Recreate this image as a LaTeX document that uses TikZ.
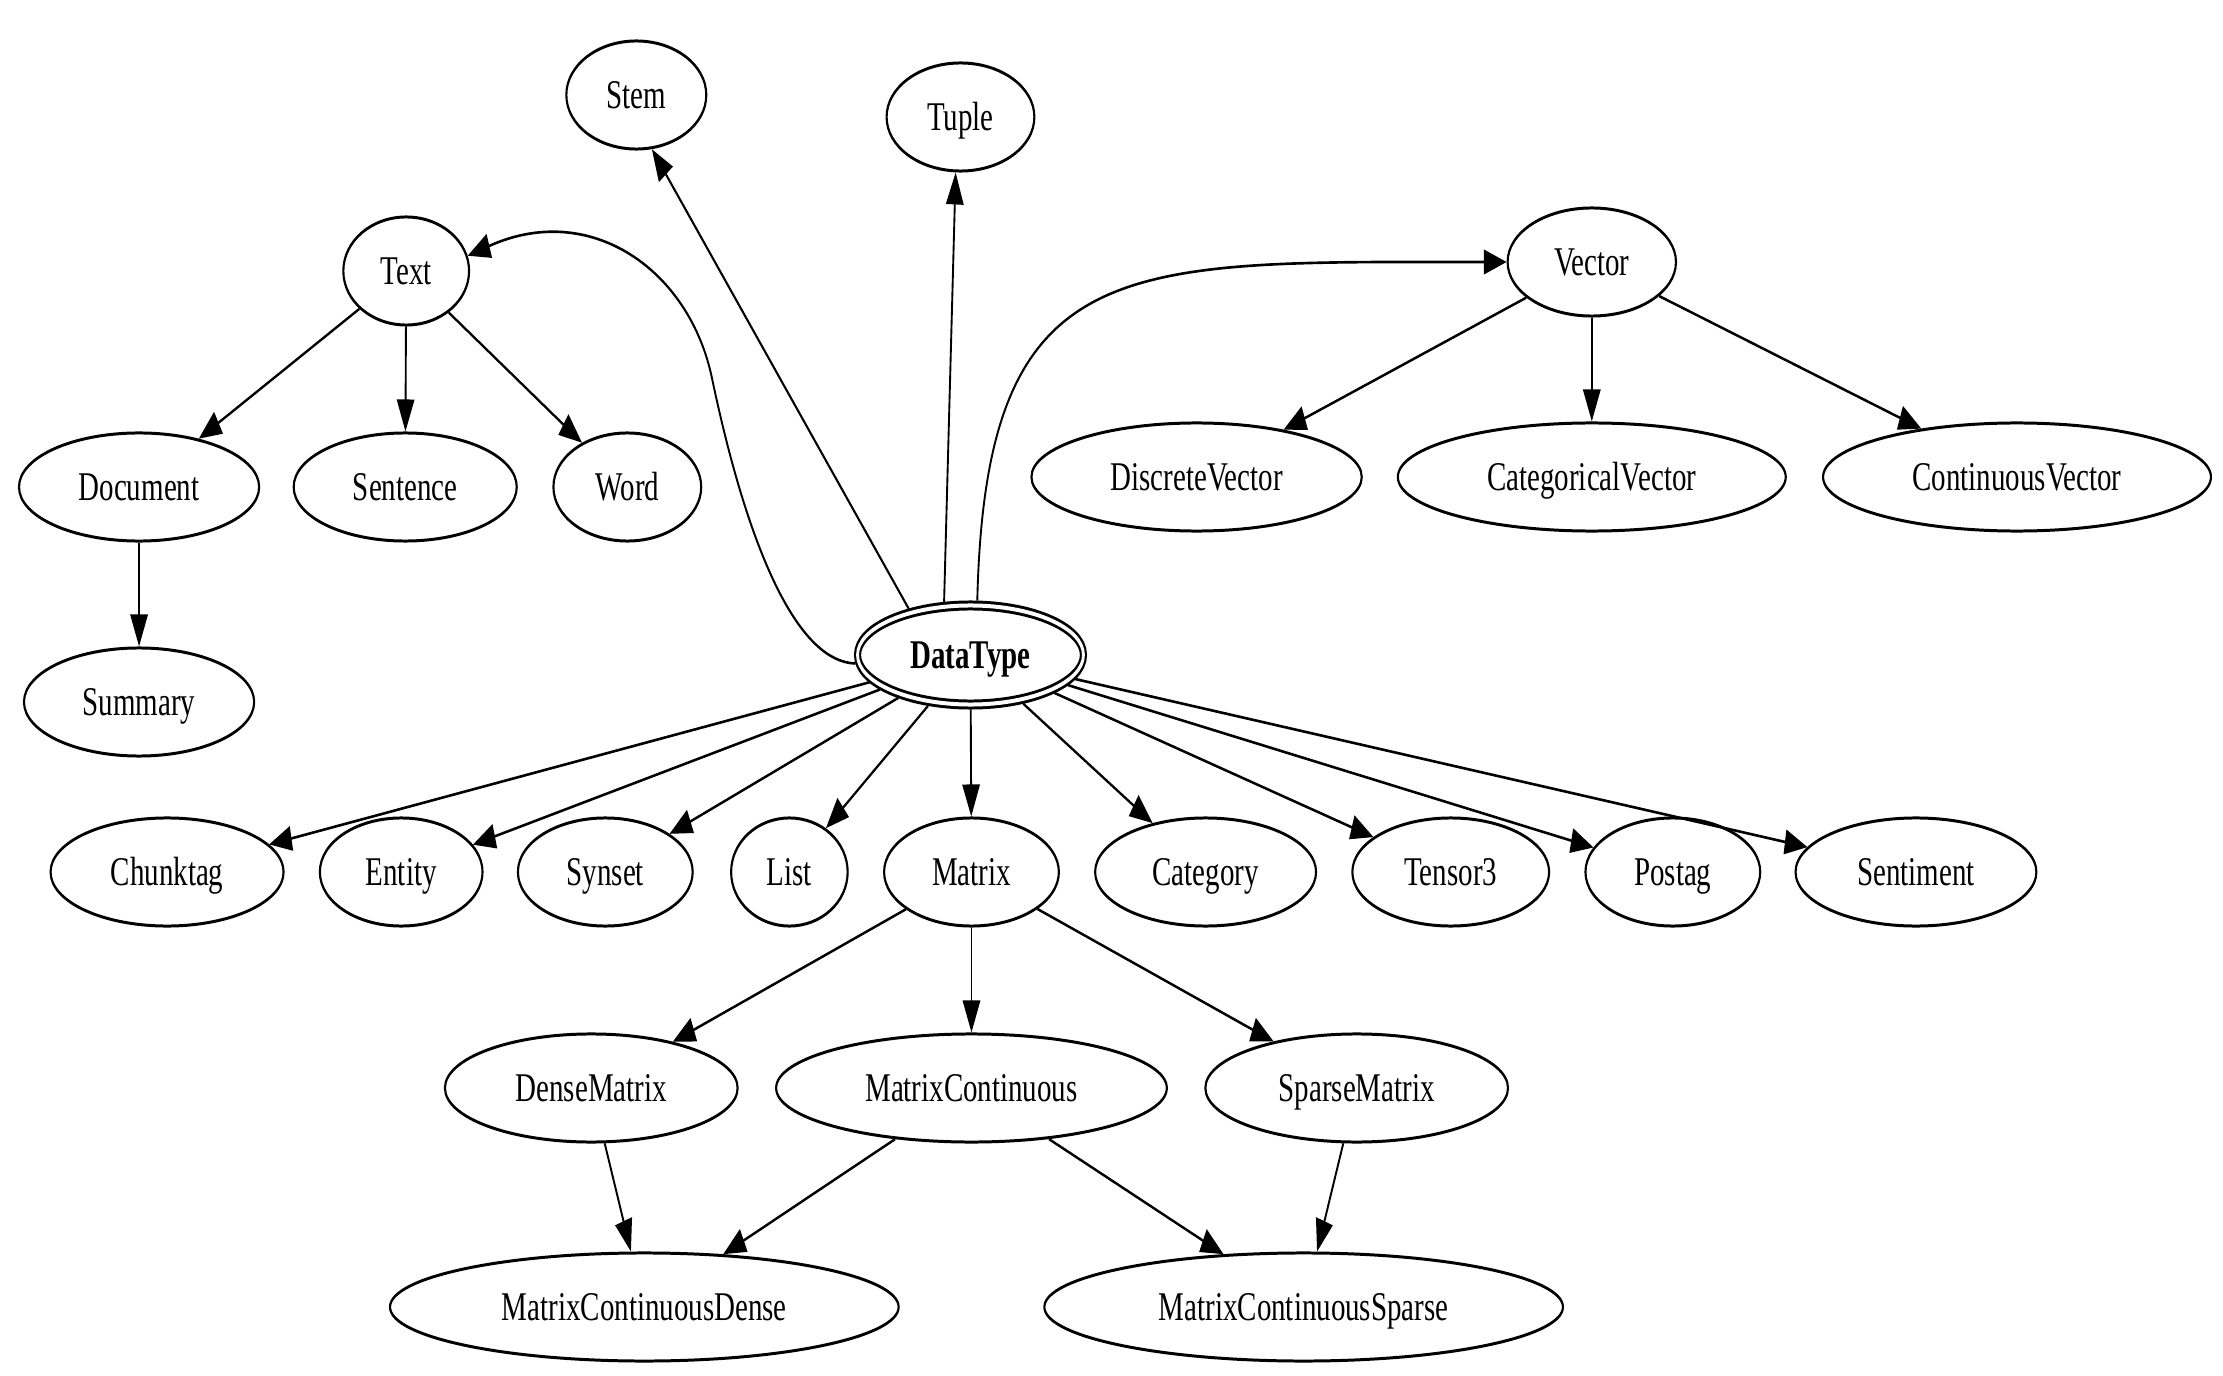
\documentclass[tikz,border=0pt]{standalone}
\usepackage{fontspec}
\setmainfont{Liberation Serif}
\usetikzlibrary{arrows.meta, shapes.geometric}

\begin{document}
\begin{tikzpicture}[x=0.01cm, y=-0.01cm,
	ell/.style={draw, ellipse, line width=0.85pt, inner sep=0pt, minimum height=1.08cm,
		font=\fontsize{11.6}{13}\selectfont, text height=0.27cm, text depth=0pt},
	edge/.style={-{Triangle[length=0.32cm,width=0.245cm]}, line width=0.75pt}]
	\useasboundingbox (0,0) rectangle (2223,1376);
	% the whole graph is squeezed sideways
	\begin{scope}[transform canvas={xscale=0.71}, x=0.014085cm]
	\node[ell, double, double distance=0.04cm, outer sep=0.05cm, minimum width=3.18cm, minimum height=0.99cm,
		font=\fontsize{11.6}{13}\selectfont\bfseries] (datatype) at (970,655) {DataType};
	\node[ell, minimum width=1.97cm] (stem) at (636,95) {Stem};
	\node[ell, minimum width=2.08cm] (tuple) at (960,117) {Tuple};
	\node[ell, minimum width=1.77cm] (text) at (406,271) {Text};
	\node[ell, minimum width=2.37cm] (vector) at (1591,262) {Vector};
	\node[ell, minimum width=3.38cm] (document) at (139,487) {Document};
	\node[ell, minimum width=3.14cm] (sentence) at (405,487) {Sentence};
	\node[ell, minimum width=2.08cm] (word) at (627,487) {Word};
	\node[ell, minimum width=3.24cm] (summary) at (139,702) {Summary};
	\node[ell, minimum width=4.65cm] (discrete) at (1196,477) {DiscreteVector};
	\node[ell, minimum width=5.46cm] (categorical) at (1591,477) {CategoricalVector};
	\node[ell, minimum width=5.46cm] (continuous) at (2016,477) {ContinuousVector};
	% row under DataType
	\node[ell, minimum width=3.28cm] (chunktag) at (167,872) {Chunktag};
	\node[ell, minimum width=2.29cm] (entity) at (401,872) {Entity};
	\node[ell, minimum width=2.46cm] (synset) at (605,872) {Synset};
	\node[ell, minimum width=1.64cm] (list) at (789,872) {List};
	\node[ell, minimum width=2.46cm] (matrix) at (971,872) {Matrix};
	\node[ell, minimum width=3.11cm] (category) at (1205,872) {Category};
	\node[ell, minimum width=2.77cm] (tensor) at (1450,872) {Tensor3};
	\node[ell, minimum width=2.46cm] (postag) at (1672,872) {Postag};
	\node[ell, minimum width=3.39cm] (sentiment) at (1915,872) {Sentiment};
	% matrices
	\node[ell, minimum width=4.12cm] (dense) at (591,1088) {DenseMatrix};
	\node[ell, minimum width=5.50cm] (mcont) at (971,1088) {MatrixContinuous};
	\node[ell, minimum width=4.26cm] (sparse) at (1356,1088) {SparseMatrix};
	\node[ell, minimum width=7.16cm] (mcdense) at (644,1307) {MatrixContinuousDense};
	\node[ell, minimum width=7.30cm] (mcsparse) at (1303,1307) {MatrixContinuousSparse};

	\draw[edge] (datatype.183) .. controls (800,662) and (750,560) .. (712,380)
		.. controls (690,270) and (590,200) .. (text.10);
	\draw[edge] (datatype.152) -- (stem.-68);
	\draw[edge] (datatype.125) -- (tuple.-97);
	\draw[edge] (datatype.80) .. controls (985,250) and (1120,262) .. (vector.west);
	\draw[edge] (text) -- (document);
	\draw[edge] (text) -- (sentence);
	\draw[edge] (text) -- (word);
	\draw[edge] (document) -- (summary);
	\draw[edge] (vector) -- (discrete);
	\draw[edge] (vector) -- (categorical);
	\draw[edge] (vector) -- (continuous);
	\draw[edge] (datatype) -- (chunktag);
	\draw[edge] (datatype) -- (entity);
	\draw[edge] (datatype) -- (synset);
	\draw[edge] (datatype) -- (list);
	\draw[edge] (datatype) -- (matrix);
	\draw[edge] (datatype) -- (category);
	\draw[edge] (datatype) -- (tensor);
	\draw[edge] (datatype) -- (postag);
	\draw[edge] (datatype) -- (sentiment);
	\draw[edge] (matrix) -- (dense);
	\draw[edge] (matrix) -- (mcont);
	\draw[edge] (matrix) -- (sparse);
	\draw[edge] (dense) -- (mcdense);
	\draw[edge] (mcont) -- (mcdense);
	\draw[edge] (mcont) -- (mcsparse);
	\draw[edge] (sparse) -- (mcsparse);
	\end{scope}
\end{tikzpicture}
\end{document}
